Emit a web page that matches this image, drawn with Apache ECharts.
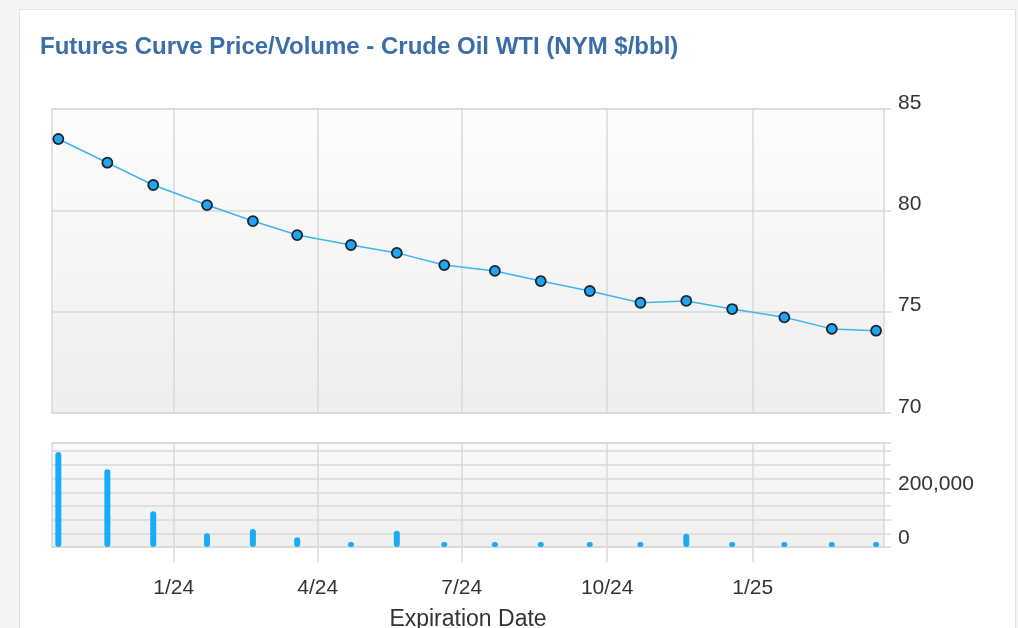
<!DOCTYPE html>
<html>
<head>
<meta charset="utf-8">
<title>Futures Curve Price/Volume</title>
<script src="https://cdn.jsdelivr.net/npm/echarts@6/dist/echarts.min.js"></script>
<style>
  html, body { margin: 0; padding: 0; background: #f4f4f4; }
  #card {
    position: absolute; left: 19px; top: 9px; width: 997px; height: 640px;
    background: #fff; border: 1px solid #e2e2e2; box-sizing: border-box;
  }
  #chart { position: absolute; left: 0; top: 0; width: 1018px; height: 628px; }
</style>
</head>
<body>
<div id="card"></div>
<div id="chart"></div>
<script>
// contract expiration dates (x positions)
var expiryDates = [
  '2023-10-20', '2023-11-20', '2023-12-19', '2024-01-22', '2024-02-20', '2024-03-19',
  '2024-04-22', '2024-05-21', '2024-06-20', '2024-07-22', '2024-08-20', '2024-09-20',
  '2024-10-22', '2024-11-20', '2024-12-19', '2025-01-21', '2025-02-20', '2025-03-20'
];
// settle price, $/bbl
var prices = [
  83.52, 82.35, 81.25, 80.26, 79.47, 78.78, 78.29, 77.90, 77.30,
  77.01, 76.51, 76.02, 75.44, 75.53, 75.13, 74.72, 74.15, 74.06
];
// volume, contracts
var volumes = [
  347000, 284000, 131000, 50000, 66000, 36000, 8000, 59000, 6000,
  5000, 6000, 3000, 3000, 48000, 18000, 3000, 3000, 3000
];
// x axis ticks
var tickDates = ['2024-01-01', '2024-04-01', '2024-07-01', '2024-10-01', '2025-01-01'];
var tickLabels = ['1/24', '4/24', '7/24', '10/24', '1/25'];
var xRange = ['2023-10-16', '2025-03-25'];
var volumeLabelValues = [0, 200000];

// 'YYYY-MM-DD' -> day number (UTC), used as the x value
function toTime(s) {
  var p = s.split('-');
  return Date.UTC(+p[0], +p[1] - 1, +p[2]) / 86400000;
}

var tickTimes = tickDates.map(toTime);
var priceData = expiryDates.map(function (d, i) { return [toTime(d), prices[i]]; });
var volumeData = expiryDates.map(function (d, i) { return [toTime(d), volumes[i]]; });

var chart = echarts.init(document.getElementById('chart'));

var gridBg = new echarts.graphic.LinearGradient(0, 0, 0, 1, [
  { offset: 0, color: '#fdfdfd' },
  { offset: 1, color: '#eeeeee' }
]);
var gridBg2 = new echarts.graphic.LinearGradient(0, 0, 0, 1, [
  { offset: 0, color: '#fafafa' },
  { offset: 1, color: '#efefef' }
]);
var fontFam = 'Liberation Sans, Arial, sans-serif';
var gridColor = '#d9d9d9';

var option = {
  animation: false,
  backgroundColor: 'transparent',
  title: {
    text: 'Futures Curve Price/Volume - Crude Oil WTI (NYM $/bbl)',
    left: 40,
    top: 35,
    padding: 0,
    textStyle: {
      color: '#3b6ea8',
      fontSize: 24,
      fontWeight: 'bold',
      fontFamily: fontFam
    }
  },
  grid: [
    {
      left: 52, right: 134, top: 109, height: 304,
      show: true, backgroundColor: gridBg,
      borderColor: gridColor, borderWidth: 1.5,
      outerBoundsMode: 'none'
    },
    {
      left: 52, right: 134, top: 443, height: 104,
      show: true, backgroundColor: gridBg2,
      borderColor: gridColor, borderWidth: 1.5,
      outerBoundsMode: 'none'
    }
  ],
  xAxis: [
    {
      type: 'value',
      gridIndex: 0,
      min: toTime(xRange[0]),
      max: toTime(xRange[1]),
      axisLine: { show: false },
      axisTick: { show: false, customValues: tickTimes },
      axisLabel: { show: false, customValues: tickTimes },
      splitLine: { show: true, lineStyle: { color: gridColor, width: 1.5 } }
    },
    {
      type: 'value',
      gridIndex: 1,
      min: toTime(xRange[0]),
      max: toTime(xRange[1]),
      axisLine: { show: false },
      axisTick: {
        show: true, length: 15, customValues: tickTimes,
        lineStyle: { color: gridColor, width: 1.5 }
      },
      axisLabel: {
        show: true,
        customValues: tickTimes,
        margin: 31,
        fontSize: 21,
        color: '#333',
        fontFamily: fontFam,
        formatter: function (v) {
          var i = tickTimes.indexOf(v);
          return i >= 0 ? tickLabels[i] : '';
        }
      },
      splitLine: { show: true, lineStyle: { color: gridColor, width: 1.5 } },
      name: 'Expiration Date',
      nameLocation: 'middle',
      nameGap: 61,
      nameTextStyle: { fontSize: 23, color: '#333', fontFamily: fontFam }
    }
  ],
  yAxis: [
    {
      type: 'value',
      gridIndex: 0,
      position: 'right',
      min: 70,
      max: 85,
      interval: 5,
      axisLine: { show: false },
      axisTick: { show: true, length: 7, lineStyle: { color: gridColor, width: 1.5 } },
      axisLabel: {
        margin: 14, fontSize: 21, color: '#333', fontFamily: fontFam,
        verticalAlign: 'bottom', lineHeight: 12
      },
      splitLine: { show: true, lineStyle: { color: gridColor, width: 1.5 } }
    },
    {
      type: 'value',
      gridIndex: 1,
      position: 'right',
      min: 0,
      max: 380000,
      interval: 50000,
      axisLine: { show: false },
      axisTick: { show: true, length: 7, lineStyle: { color: gridColor, width: 1.5 } },
      axisLabel: {
        margin: 14, fontSize: 21, color: '#333', fontFamily: fontFam,
        verticalAlign: 'bottom', lineHeight: 17,
        customValues: volumeLabelValues,
        formatter: function (v) { return v.toLocaleString('en-US'); }
      },
      splitLine: { show: true, lineStyle: { color: gridColor, width: 1.5 } }
    }
  ],
  series: [
    {
      name: 'Price',
      type: 'line',
      xAxisIndex: 0,
      yAxisIndex: 0,
      data: priceData,
      symbol: 'circle',
      symbolSize: 10,
      lineStyle: { color: '#3db5ee', width: 1.5 },
      itemStyle: { color: '#1ea6f2', borderColor: '#1a242e', borderWidth: 1.8 }
    },
    {
      name: 'Volume',
      type: 'bar',
      xAxisIndex: 1,
      yAxisIndex: 1,
      data: volumeData,
      barWidth: 6,
      barMinHeight: 5,
      itemStyle: { color: '#1aabf7', borderRadius: 3 }
    }
  ]
};

chart.setOption(option);
window.addEventListener('resize', function () {
  chart.resize();
});
</script>
</body>
</html>
